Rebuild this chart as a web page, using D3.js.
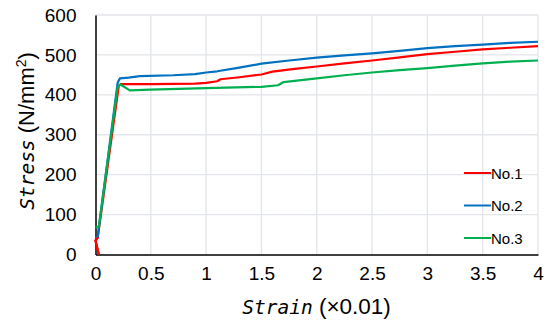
<!DOCTYPE html>
<html>
<head>
<meta charset="utf-8">
<script src="https://cdn.jsdelivr.net/npm/d3@7"></script>
<style>
  body { margin: 0; background: #fff; }
  text { font-family: "Liberation Sans", Arial, sans-serif; fill: #000; }
</style>
</head>
<body>
<svg id="chart" width="550" height="326"></svg>
<script>
// series as [strain (x0.01), stress (N/mm2)]
const no1 = [[0.03, 0], [0.0, 35], [0.02, 42], [0.21, 422], [0.23, 427], [0.5, 427], [0.9, 428],
  [1.0, 430], [1.1, 434], [1.13, 439], [1.3, 444], [1.5, 451], [1.6, 458], [1.8, 465], [2.0, 471],
  [2.25, 479], [2.5, 486], [2.75, 494], [3.0, 502], [3.25, 508], [3.5, 514], [3.75, 518], [4.0, 522]]
const no2 = [[0.0, 40], [0.02, 45], [0.2, 430], [0.22, 441], [0.3, 443], [0.4, 447], [0.7, 449],
  [0.9, 452], [1.0, 456], [1.1, 459], [1.3, 468], [1.5, 478], [1.75, 486], [2.0, 493], [2.25, 499],
  [2.5, 504], [2.75, 510], [3.0, 517], [3.25, 522], [3.5, 526], [3.75, 530], [4.0, 533]]
const no3 = [[0.0, 68], [0.03, 70], [0.2, 420], [0.225, 426], [0.31, 411], [0.5, 413], [1.0, 417],
  [1.5, 420], [1.65, 424], [1.7, 432], [2.0, 441], [2.25, 449], [2.5, 456], [2.75, 462], [3.0, 467],
  [3.25, 473], [3.5, 479], [3.75, 483], [4.0, 486]]

const seriesNames = ['No.1', 'No.2', 'No.3']
const seriesColors = ['#ff0000', '#0070c0', '#00b050']
const xTicks = [0, 0.5, 1, 1.5, 2, 2.5, 3, 3.5, 4]
const yTicks = [0, 100, 200, 300, 400, 500, 600]

const svg = d3.select('#chart')
const plotLeft = 95.5, plotRight = 538, plotTop = 15, plotBottom = 254.5

const x = d3.scaleLinear().domain([0, 4]).range([plotLeft, plotRight])
const y = d3.scaleLinear().domain([0, 600]).range([plotBottom, plotTop])

// gridlines
const grid = svg.append('g').attr('stroke', '#e2e5ea').attr('stroke-width', 1.3)
grid.selectAll('.gy').data(yTicks.slice(1)).join('line')
  .attr('x1', plotLeft).attr('x2', plotRight)
  .attr('y1', (d) => y(d)).attr('y2', (d) => y(d))
grid.selectAll('.gx').data(xTicks.slice(1)).join('line')
  .attr('y1', plotTop).attr('y2', plotBottom)
  .attr('x1', (d) => x(d)).attr('x2', (d) => x(d))

// axes, no tick marks
const xAxis = svg.append('g').attr('transform', `translate(0,${plotBottom})`)
  .call(d3.axisBottom(x).tickValues(xTicks).tickSize(0).tickPadding(12).tickFormat(d3.format('')))
const yAxis = svg.append('g').attr('transform', `translate(${plotLeft},0)`)
  .call(d3.axisLeft(y).tickValues(yTicks).tickSize(0).tickPadding(19))
;[xAxis, yAxis].forEach((a) => {
  a.select('.domain').attr('stroke', '#000').attr('stroke-width', 1.5)
  a.selectAll('text').attr('font-family', '"Liberation Sans", Arial, sans-serif')
    .attr('font-size', 19).attr('fill', '#000')
})

// lines
const line = d3.line().x((d) => x(d[0])).y((d) => y(d[1]))
svg.append('g').selectAll('path').data([no1, no2, no3]).join('path')
  .attr('d', line)
  .attr('fill', 'none')
  .attr('stroke', (_, i) => seriesColors[i])
  .attr('stroke-width', 2.2)
  .attr('stroke-linejoin', 'round')
// red on top of the others near the origin, like the picture
svg.append('path').datum(no1.slice(0, 3)).attr('d', line).attr('fill', 'none')
  .attr('stroke', seriesColors[0]).attr('stroke-width', 2.2)

// legend
const legend = svg.append('g')
seriesNames.forEach((name, i) => {
  const ly = 173 + i * 32.5
  legend.append('line').attr('x1', 464).attr('x2', 491).attr('y1', ly).attr('y2', ly)
    .attr('stroke', seriesColors[i]).attr('stroke-width', 2)
  legend.append('text').attr('x', 491).attr('y', ly + 5.5).attr('font-size', 15).text(name)
})

// axis titles
const mono = '"DejaVu Sans Mono", monospace'
const xt = svg.append('text').attr('x', 316.5).attr('y', 314).attr('text-anchor', 'middle')
  .attr('font-size', 22.5)
xt.append('tspan').attr('font-family', mono).attr('font-style', 'italic')
  .attr('font-size', 19.5).text('Strain')
xt.append('tspan').text(' (×0.01)')

const yt = svg.append('text').attr('transform', 'translate(34,131) rotate(-90)')
  .attr('text-anchor', 'middle').attr('font-size', 22)
yt.append('tspan').attr('font-family', mono).attr('font-style', 'italic')
  .attr('font-size', 19.5).text('Stress')
yt.append('tspan').text(' (N/mm')
yt.append('tspan').attr('font-size', 14).attr('dy', -8).text('2')
yt.append('tspan').attr('dy', 8).text(')')
</script>
</body>
</html>
